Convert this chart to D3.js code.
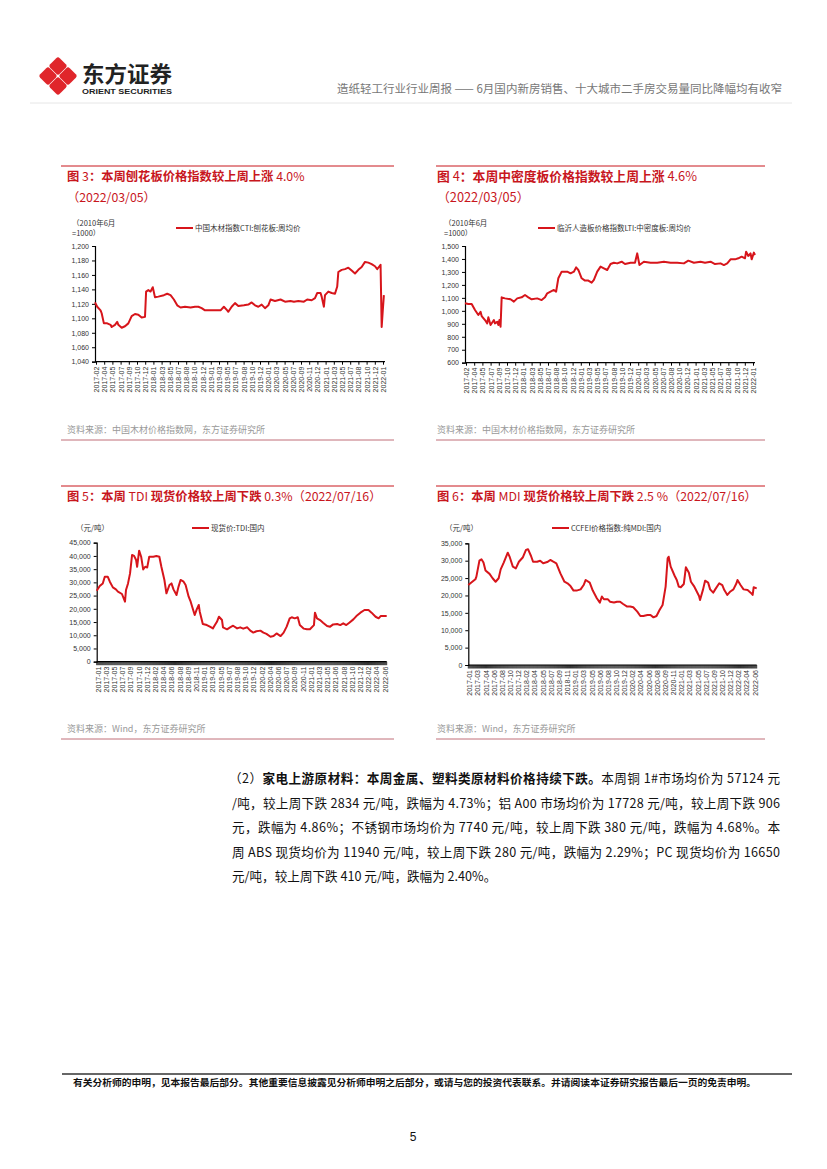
<!DOCTYPE html>
<html><head><meta charset="utf-8">
<script src="https://cdn.jsdelivr.net/npm/d3@7/dist/d3.min.js"></script>
<style>body{margin:0;background:#fff}svg{display:block}</style>
</head><body><svg id="page" width="827" height="1169"></svg>
<script>
// ---------- data ----------
const c3Labels=["2017-02","2017-04","2017-05","2017-07","2017-09","2017-10","2017-12","2018-01","2018-03","2018-05","2018-07","2018-08","2018-10","2018-12","2019-01","2019-03","2019-05","2019-07","2019-08","2019-10","2019-12","2020-01","2020-03","2020-05","2020-07","2020-09","2020-11","2020-12","2021-01","2021-03","2021-05","2021-07","2021-08","2021-10","2021-12","2022-01"];
const c3Weeks=[0,2,5,6,8,11,14,15,18,20,21,24,27,30,33,36,39,42,45,46,48,50,52,54,57,62,65,68,71,74,77,81,86,90,93,96,99,104,108,113,116,119,120,123,126,129,134,138,141,144,147,150,153,156,158,162,167,171,176,179,183,188,191,195,198,200,203,204,206,207,210,213,216,218,219,222,225,228,231,234,237,240,243,246,249,252,254,256,257,258,259,260];
const c3Values=[1122,1116,1111,1107,1093,1093,1091,1088,1091,1095,1091,1087,1089,1093,1103,1106,1105,1101,1102,1137,1139,1137,1143,1129,1130,1132,1134,1132,1126,1118,1115,1116,1115,1116,1116,1114,1111,1111,1111,1111,1116,1111,1109,1116,1121,1117,1118,1119,1122,1118,1116,1119,1114,1118,1126,1124,1126,1123,1124,1123,1124,1123,1126,1125,1128,1135,1135,1130,1116,1132,1137,1135,1134,1144,1164,1167,1168,1170,1166,1162,1167,1171,1178,1177,1175,1172,1168,1172,1174,1088,1111,1132];

const c4Labels=["2017-02","2017-04","2017-05","2017-07","2017-09","2017-10","2017-12","2018-01","2018-03","2018-05","2018-07","2018-08","2018-10","2018-12","2019-01","2019-03","2019-05","2019-07","2019-08","2019-10","2019-12","2020-01","2020-03","2020-05","2020-07","2020-08","2020-10","2020-12","2021-01","2021-03","2021-05","2021-07","2021-08","2021-10","2021-12","2022-01"];
const c4Weeks=[0,3,6,9,12,14,15,18,20,21,23,26,27,29,30,31,32,33,36,41,44,47,51,54,57,60,65,69,72,74,77,80,82,84,87,92,95,98,100,102,105,108,111,114,116,119,122,125,128,131,134,137,141,144,149,153,155,157,161,167,173,179,185,191,197,201,206,212,216,221,225,230,233,236,239,243,246,249,252,253,255,257,258,260,261];
const c4Values=[1058,1053,1053,1006,968,993,960,929,903,950,891,929,903,916,891,929,878,1104,1096,1089,1071,1096,1104,1122,1104,1089,1096,1083,1104,1135,1148,1161,1148,1251,1302,1302,1289,1302,1335,1315,1251,1233,1233,1217,1238,1302,1341,1328,1315,1361,1371,1366,1379,1361,1371,1371,1443,1353,1379,1371,1371,1379,1371,1371,1366,1387,1371,1379,1371,1379,1361,1366,1353,1366,1397,1397,1405,1418,1405,1456,1423,1443,1397,1449,1431];

const c5Labels=["2017-01","2017-03","2017-05","2017-07","2017-09","2017-10","2017-12","2018-02","2018-04","2018-06","2018-08","2018-09","2018-11","2019-01","2019-03","2019-05","2019-07","2019-08","2019-10","2019-12","2020-02","2020-04","2020-06","2020-07","2020-09","2020-11","2021-01","2021-03","2021-05","2021-06","2021-08","2021-10","2021-12","2022-02","2022-04","2022-06"];
const c5Weeks=[0,3,6,8,11,13,16,19,21,25,28,29,31,33,35,37,39,40,42,44,46,48,50,52,56,59,62,64,67,69,72,74,76,79,81,83,86,88,91,93,96,97,99,101,102,105,109,112,115,117,119,121,124,125,129,132,135,139,142,145,149,152,155,158,162,165,168,172,175,178,182,185,188,191,193,196,199,201,205,208,211,215,216,218,221,224,228,231,234,238,241,244,247,250,254,257,261,265,269,272,276,279,281,284,287];
const c5Values=[26850,28600,29600,32100,32100,30250,28100,27350,26500,25600,22700,27100,29600,33400,40350,40000,38450,35900,42000,39700,34900,35900,35650,39700,39700,40000,39700,35900,30900,25850,29000,29600,27350,25200,28400,30900,30250,29000,24600,22700,18900,17650,19800,21450,18900,14250,13850,13250,12600,13850,15100,17000,15750,13000,12250,13000,13600,12600,13000,12500,13000,11750,11000,11500,11750,11000,10500,9450,9700,10700,9700,11000,13250,16400,16800,16400,16800,13850,12500,12250,12250,13850,18550,16400,15750,14750,13500,13250,14100,14250,13850,14500,13850,14750,16000,17250,18550,19550,19550,18550,17000,16400,17250,17250,17250];

const c6Labels=["2017-01","2017-03","2017-04","2017-06","2017-08","2017-10","2017-12","2018-02","2018-04","2018-05","2018-07","2018-09","2018-11","2019-01","2019-03","2019-05","2019-06","2019-08","2019-10","2019-12","2020-02","2020-04","2020-06","2020-08","2020-09","2020-11","2021-01","2021-03","2021-05","2021-07","2021-09","2021-10","2021-12","2022-02","2022-04","2022-06"];
const c6Weeks=[0,3,7,8,11,13,15,17,21,24,27,30,32,35,39,41,44,47,50,54,57,59,62,64,68,71,74,78,81,84,87,91,95,98,101,104,107,111,114,116,120,123,127,130,132,134,138,140,144,147,150,153,157,160,163,167,170,173,177,180,183,186,189,192,195,197,198,200,204,206,208,210,213,215,218,220,223,225,228,229,232,234,237,239,242,244,248,251,253,256,259,262,265,266,269,272,276,279,281,282,285];
const c6Values=[23000,23700,24650,25400,30000,30400,29450,27150,26200,24950,23950,24950,27500,29450,32300,31000,28300,27800,29700,31000,33100,33300,31350,29700,29700,30000,29250,29600,30200,29700,29250,26350,23950,23500,22700,21400,21400,21750,23000,24450,23700,21400,19200,17950,19700,18900,18900,18200,17950,18200,18200,17550,16800,16800,16600,15350,14100,14100,14400,14400,13700,14100,15800,17250,22550,30700,31150,28300,25600,24450,22550,22350,23300,28100,26550,23950,22700,21550,19850,18700,21750,24250,23700,21750,20800,21750,23500,23000,21550,20150,21150,21750,23500,24450,23000,21750,21550,20800,20150,22350,22050];

// ---------- page ----------
const svg=d3.select('#page');
const CJK='"Noto Sans CJK SC","Noto Sans",sans-serif';
const LAT='"Liberation Sans",Arial,"Noto Sans CJK SC",sans-serif';
const RED='#d7151b';
const TRED='#c8161d';

// logo
const logo=svg.append('g').attr('transform','translate(58,76)');
[[0,-10],[10,0],[0,10],[-10,0]].forEach(([dx,dy])=>{
  logo.append('rect').attr('x',-6.8).attr('y',-6.8).attr('width',13.6).attr('height',13.6).attr('rx',2.5)
    .attr('fill','#e0262b').attr('transform',`translate(${dx},${dy}) rotate(45)`);
});
svg.append('text').attr('x',82).attr('y',82).attr('font-family',CJK).attr('font-weight','bold')
  .attr('font-size',22).attr('fill','#222').attr('textLength',90).attr('lengthAdjust','spacingAndGlyphs').text('东方证券');
svg.append('text').attr('x',82).attr('y',93.5).attr('font-family','"Liberation Sans",Arial').attr('font-weight','bold')
  .attr('font-size',7.5).attr('fill','#222').attr('textLength',90).attr('lengthAdjust','spacingAndGlyphs').text('ORIENT SECURITIES');
svg.append('text').attr('x',337).attr('y',93).attr('font-family',CJK).attr('font-size',11.5).attr('fill','#777')
  .attr('textLength',445).attr('lengthAdjust','spacingAndGlyphs').text('造纸轻工行业行业周报 —— 6月国内新房销售、十大城市二手房交易量同比降幅均有收窄');
svg.append('line').attr('x1',30).attr('x2',792).attr('y1',103).attr('y2',103).attr('stroke','#e6e6e6').attr('stroke-width',1);

// title with bold CJK and regular latin/digits
function richTitle(t,str){
  const parts=str.match(/[A-Za-z0-9 .%\/（）]+|[^A-Za-z0-9 .%\/（）]+/g);
  parts.forEach(p=>t.append('tspan').attr('font-weight',/^[A-Za-z0-9 .%\/（）]+$/.test(p)?'normal':'bold').text(p));
}
function frame(o){
  svg.append('line').attr('x1',o.lx0).attr('x2',o.lx1).attr('y1',o.top).attr('y2',o.top).attr('stroke',TRED).attr('stroke-width',1);
  o.title.forEach((t,i)=>{
    const tx=svg.append('text').attr('x',o.tx).attr('y',o.top+15+i*20.5).attr('font-family',CJK)
      .attr('font-size',o.fs).attr('fill',TRED);
    richTitle(tx,t);
  });
  svg.append('text').attr('x',o.tx).attr('y',o.src).attr('font-family',CJK).attr('font-size',9).attr('fill','#999').text(o.srcText);
  svg.append('line').attr('x1',o.lx0).attr('x2',o.lx1).attr('y1',o.src+7).attr('y2',o.src+7).attr('stroke','#b04a55').attr('stroke-width',0.8);
}
frame({lx0:61,lx1:394,top:166,tx:67,src:433,fs:12.3,title:['图 3：本周刨花板价格指数较上周上涨 4.0%','（2022/03/05）'],srcText:'资料来源：中国木材价格指数网，东方证券研究所'});
frame({lx0:436,lx1:765,top:166,tx:437,src:433,fs:12.8,title:['图 4：本周中密度板价格指数较上周上涨 4.6%','（2022/03/05）'],srcText:'资料来源：中国木材价格指数网，东方证券研究所'});
frame({lx0:61,lx1:394,top:486,tx:67,src:732,fs:12.3,title:['图 5：本周 TDI 现货价格较上周下跌 0.3%（2022/07/16）'],srcText:'资料来源：Wind，东方证券研究所'});
frame({lx0:436,lx1:765,top:486,tx:437,src:732,fs:12.3,title:['图 6：本周 MDI 现货价格较上周下跌 2.5 %（2022/07/16）'],srcText:'资料来源：Wind，东方证券研究所'});

function drawChart(o){
  const g=svg.append('g');
  const x=d3.scaleLinear().domain([0,o.n]).range([o.x0,o.x1]);
  const y=d3.scaleLinear().domain(o.ydom).range([o.yBot,o.yTop]);
  const yAxis=d3.axisLeft(y).tickValues(d3.range(o.ydom[0],o.ydom[1]+1,o.ystep)).tickFormat(d3.format(',')).tickSize(3).tickPadding(3);
  const ya=g.append('g').attr('transform',`translate(${o.x0},0)`).call(yAxis);
  ya.select('.domain').attr('stroke','#000').attr('stroke-width',1.2);
  ya.selectAll('.tick line').attr('stroke','#000');
  ya.selectAll('text').attr('font-family',LAT).attr('font-size',7).attr('fill','#333');
  const xl=d3.scalePoint().domain(o.labels).range([o.x0+1,o.x1-2]);
  const xa=g.append('g').attr('transform',`translate(0,${o.yBot})`).call(d3.axisBottom(xl).tickSize(o.dense?0:3).tickSizeOuter(0).tickPadding(2));
  xa.select('.domain').attr('stroke','#000').attr('stroke-width',1.2).attr('d',`M${o.x0},0H${o.x1}`);
  xa.selectAll('.tick line').attr('stroke','#000');
  xa.selectAll('text').attr('font-family',LAT).attr('font-size',7).attr('fill','#333')
    .attr('transform','rotate(-90)').attr('text-anchor','end').attr('x',-5).attr('y',0).attr('dy','0.35em');
  if(o.dense){
    g.append('g').selectAll('line').data(d3.range(0,o.n+1)).join('line')
      .attr('x1',d=>x(d)).attr('x2',d=>x(d)).attr('y1',o.yBot).attr('y2',o.yBot+3.5).attr('stroke','#000').attr('stroke-width',0.8);
  }
  const line=d3.line().x(d=>x(o.weeks[d])).y(d=>y(o.values[d]));
  g.append('path').attr('d',line(d3.range(o.values.length))).attr('fill','none').attr('stroke',RED).attr('stroke-width',2).attr('stroke-linejoin','round');
  o.unit.forEach((u,i)=>g.append('text').attr('x',o.ux).attr('y',o.uy+i*10).attr('font-family',CJK).attr('font-size',7.5).attr('fill','#333').text(u));
  g.append('line').attr('x1',o.lgx).attr('x2',o.lgx+17).attr('y1',o.lgy).attr('y2',o.lgy).attr('stroke',RED).attr('stroke-width',2);
  g.append('text').attr('x',o.lgx+19).attr('y',o.lgy+2.7).attr('font-family',CJK).attr('font-size',7.5).attr('fill','#333').text(o.legend);
}

drawChart({x0:95,x1:385,yTop:246,yBot:361.7,ydom:[1040,1200],ystep:20,n:261,labels:c3Labels,weeks:c3Weeks,values:c3Values,dense:false,
  unit:['（2010年6月','=1000）'],ux:72,uy:226,lgx:176,lgy:228,legend:'中国木材指数CTI:刨花板:周均价'});
drawChart({x0:465,x1:755,yTop:246,yBot:362.7,ydom:[600,1500],ystep:100,n:261,labels:c4Labels,weeks:c4Weeks,values:c4Values,dense:false,
  unit:['（2010年6月','=1000）'],ux:444,uy:226,lgx:538,lgy:228,legend:'临沂人造板价格指数LTI:中密度板:周均价'});
drawChart({x0:96.7,x1:386.7,yTop:542.7,yBot:661.7,ydom:[0,45000],ystep:5000,n:287,labels:c5Labels,weeks:c5Weeks,values:c5Values,dense:true,
  unit:['（元/吨）'],ux:76,uy:531,lgx:192,lgy:528,legend:'现货价:TDI:国内'});
drawChart({x0:468.3,x1:756.7,yTop:543.3,yBot:665,ydom:[0,35000],ystep:5000,n:285,labels:c6Labels,weeks:c6Weeks,values:c6Values,dense:true,
  unit:['（元/吨）'],ux:445,uy:531,lgx:552,lgy:528,legend:'CCFEI价格指数:纯MDI:国内'});

// paragraph
const para=[
  [['（2）',false],['家电上游原材料：本周金属、塑料类原材料价格持续下跌。',true],['本周铜 1#市场均价为 57124 元',false]],
  [['/吨，较上周下跌 2834 元/吨，跌幅为 4.73%；铝 A00 市场均价为 17728 元/吨，较上周下跌 906',false]],
  [['元，跌幅为 4.86%；不锈钢市场均价为 7740 元/吨，较上周下跌 380 元/吨，跌幅为 4.68%。本',false]],
  [['周 ABS 现货均价为 11940 元/吨，较上周下跌 280 元/吨，跌幅为 2.29%；PC 现货均价为 16650',false]],
  [['元/吨，较上周下跌 410 元/吨，跌幅为 2.40%。',false]]
];
para.forEach((segs,i)=>{
  const t=svg.append('text').attr('x',i===0?229:232).attr('y',783+i*24.5).attr('font-family',CJK).attr('font-size',12.6).attr('fill','#111');
  if(i<4) t.attr('textLength',i===0?551:548).attr('lengthAdjust','spacing');
  segs.forEach(s=>t.append('tspan').attr('font-weight',s[1]?'bold':'normal').text(s[0]));
});

// footer
svg.append('line').attr('x1',62).attr('x2',792).attr('y1',1074).attr('y2',1074).attr('stroke','#666').attr('stroke-width',2);
svg.append('text').attr('x',73).attr('y',1086).attr('font-family',CJK).attr('font-weight','bold').attr('font-size',9.6).attr('fill','#111')
  .attr('textLength',683).attr('lengthAdjust','spacingAndGlyphs').text('有关分析师的申明，见本报告最后部分。其他重要信息披露见分析师申明之后部分，或请与您的投资代表联系。并请阅读本证券研究报告最后一页的免责申明。');
svg.append('text').attr('x',413).attr('y',1141).attr('text-anchor','middle').attr('font-family',LAT).attr('font-size',12).attr('fill','#111').text('5');
</script></body></html>
